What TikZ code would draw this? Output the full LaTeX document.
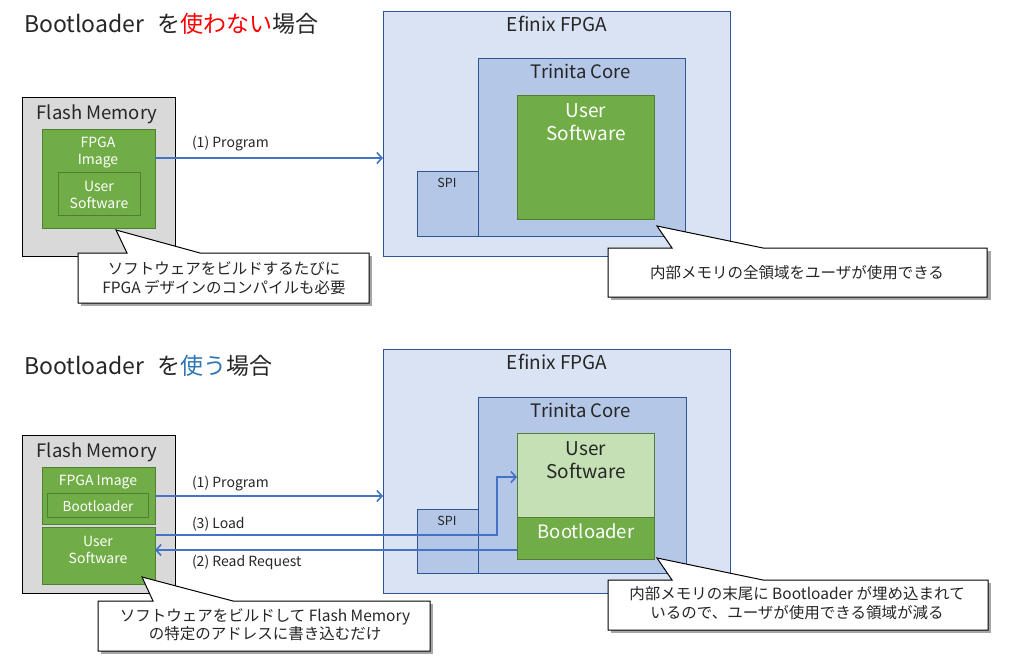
\documentclass[tikz,border=0pt]{standalone}
\usepackage{fontspec}
\setmainfont{Noto Sans CJK JP}
\usetikzlibrary{arrows.meta}
\definecolor{fpgaF}{HTML}{DAE3F3}
\definecolor{fpgaB}{HTML}{2F5597}
\definecolor{coreF}{HTML}{B4C7E7}
\definecolor{grnF}{HTML}{70AD47}
\definecolor{grnB}{HTML}{507E32}
\definecolor{lgrnF}{HTML}{C5E0B4}
\definecolor{flashF}{HTML}{D9D9D9}
\definecolor{arrC}{HTML}{4472C4}
\definecolor{txtC}{HTML}{262626}
\definecolor{redT}{HTML}{FF0000}
\definecolor{blueT}{HTML}{2E75B6}
\newcommand{\fs}[1]{\fontsize{#1}{#1}\selectfont}
\tikzset{
  box/.style={shape=rectangle, anchor=north west, inner sep=0pt, outer sep=0pt, line width=1pt},
  fpgabox/.style={box, draw=fpgaB, fill=fpgaF},
  corebox/.style={box, draw=fpgaB, fill=coreF},
  grnbox/.style={box, draw=grnB, fill=grnF},
  lgrnbox/.style={box, draw=grnB, fill=lgrnF},
  flashbox/.style={box, draw=black, fill=flashF},
  txt/.style={inner sep=0pt, outer sep=0pt, anchor=base, text=txtC, align=center},
  wtxt/.style={txt, text=white},
  arr/.style={draw=arrC, line width=2pt, -{Straight Barb[length=5pt,width=11pt,line width=1.6pt]}},
  callout/.style={draw=black, fill=white, line width=1pt, line join=miter},
  shadow/.style={fill=black!35, draw=none},
}
\begin{document}
\begin{tikzpicture}[x=1pt,y=-1pt]
\useasboundingbox (0,0) rectangle (1009,671);
% (multi-line text nodes are placed at the baseline of their LAST line)

% ================= TOP =================
\node[txt, anchor=base west, font=\fs{23}] (title1) at (24,33) {Bootloader\hspace{0.35em} を\textcolor{redT}{使わない}場合};

% Flash memory (top)
\node[flashbox, minimum width=153, minimum height=158] (flash1) at (22,98) {};
\node[txt, font=\fs{18.5}] (flash1t) at (97,120) {Flash Memory};
\node[grnbox, minimum width=113, minimum height=98] (img1) at (42,130) {};
\node[wtxt, font=\fontsize{14}{17}\selectfont] (img1t) at (98,165) {FPGA\\Image};
\node[grnbox, minimum width=82, minimum height=43] (usw1) at (58,173) {};
\node[wtxt, font=\fontsize{14}{17}\selectfont] (usw1t) at (99,208) {User\\Software};

% FPGA (top)
\node[fpgabox, minimum width=347, minimum height=244] (fpga1) at (383,12) {};
\node[txt, font=\fs{19}] (fpga1t) at (557,32) {Efinix FPGA};
\node[corebox, minimum width=61, minimum height=64] (spi1) at (417,172) {};
\node[txt, font=\fs{12.5}] (spi1t) at (447,188) {SPI};
\node[corebox, minimum width=207, minimum height=177] (core1) at (478,59) {};
\node[txt, font=\fs{18.5}] (core1t) at (581,79) {Trinita Core};
\node[grnbox, minimum width=137, minimum height=124] (cusw1) at (517,96) {};
\node[wtxt, font=\fontsize{19}{23}\selectfont] (cusw1t) at (586,141) {User\\Software};

% arrow (1) top
\draw[arr] (img1.east |- 0,158) -- (fpga1.west |- 0,158);
\node[txt, anchor=base west, font=\fs{14}] (p1) at (192,148) {(1) Program};

% callout 1
\coordinate (c1tip) at (116,230);
\fill[shadow] (81,256) -- (372,256) -- (372,306) -- (81,306) -- cycle;
\draw[callout] (78,253) -- (127,253) -- (c1tip) -- (200,253) -- (369,253) -- (369,303) -- (78,303) -- cycle;
\node[txt, font=\fontsize{15.5}{19}\selectfont] (c1t) at (224,293) {ソフトウェアをビルドするたびに\\FPGA デザインのコンパイルも必要};

% callout 2
\coordinate (c2tip) at (657,226);
\fill[shadow] (611,251) -- (991,251) -- (991,300) -- (611,300) -- cycle;
\draw[callout] (608,248) -- (672,248) -- (c2tip) -- (763,248) -- (987,248) -- (987,297) -- (608,297) -- cycle;
\node[txt, font=\fs{15.5}] (c2t) at (797,278) {内部メモリの全領域をユーザが使用できる};

% ================= BOTTOM =================
\node[txt, anchor=base west, font=\fs{23}] (title2) at (24,374) {Bootloader\hspace{0.35em} を\textcolor{blueT}{使う}場合};

% Flash memory (bottom)
\node[flashbox, minimum width=153, minimum height=158] (flash2) at (22,435) {};
\node[txt, font=\fs{18.5}] (flash2t) at (97,457) {Flash Memory};
\node[grnbox, minimum width=113, minimum height=57] (img2) at (42,467) {};
\node[wtxt, font=\fs{14}] (img2t) at (98,485) {FPGA Image};
\node[grnbox, minimum width=101, minimum height=24] (bl2) at (47,493) {};
\node[wtxt, font=\fs{13.5}] (bl2t) at (98,511) {Bootloader};
\node[grnbox, minimum width=113, minimum height=57] (usw2) at (42,527) {};
\node[wtxt, font=\fontsize{14}{17}\selectfont] (usw2t) at (98,563) {User\\Software};

% FPGA (bottom)
\node[fpgabox, minimum width=347, minimum height=244] (fpga2) at (383,349) {};
\node[txt, font=\fs{19}] (fpga2t) at (557,369) {Efinix FPGA};
\node[corebox, minimum width=61, minimum height=64] (spi2) at (417,509) {};
\node[txt, font=\fs{12.5}] (spi2t) at (447,525) {SPI};
\node[corebox, minimum width=208, minimum height=176] (core2) at (478,397) {};
\node[txt, font=\fs{18.5}] (core2t) at (581,417) {Trinita Core};
\node[lgrnbox, minimum width=137, minimum height=84] (cusw2) at (517,433) {};
\node[txt, font=\fontsize{19}{23}\selectfont] (cusw2t) at (586,478) {User\\Software};
\node[grnbox, minimum width=137, minimum height=42] (cbl2) at (517,517) {};
\node[wtxt, font=\fs{18.5}] (cbl2t) at (586,538) {Bootloader};

% arrows bottom
\draw[arr] (img2.east |- 0,496) -- (fpga2.west |- 0,496);
\node[txt, anchor=base west, font=\fs{14}] (p2) at (192,487) {(1) Program};
\coordinate (bend) at (497,535);
\draw[arr] (usw2.east |- bend) -- (bend) -- (bend |- 0,477) -- (cusw2.west |- 0,477);
\node[txt, anchor=base west, font=\fs{14}] (ld) at (192,528) {(3) Load};
\draw[arr] (cbl2.west |- 0,550) -- (usw2.east |- 0,550);
\node[txt, anchor=base west, font=\fs{14}] (rr) at (192,566) {(2) Read Request};

% callout 3
\coordinate (c3tip) at (657,558);
\fill[shadow] (611,583) -- (991,583) -- (991,633) -- (611,633) -- cycle;
\draw[callout] (608,580) -- (672,580) -- (c3tip) -- (763,580) -- (988,580) -- (988,630) -- (608,630) -- cycle;
\node[txt, font=\fontsize{15.5}{19}\selectfont] (c3t) at (797,618) {内部メモリの末尾に Bootloader が埋め込まれて\\いるので、ユーザが使用できる領域が減る};

% callout 4
\coordinate (c4tip) at (142,577);
\fill[shadow] (101,604) -- (433,604) -- (433,654) -- (101,654) -- cycle;
\draw[callout] (98,601) -- (153,601) -- (c4tip) -- (233,601) -- (430,601) -- (430,651) -- (98,651) -- cycle;
\node[txt, font=\fontsize{15.5}{18}\selectfont] (c4t) at (265,639) {ソフトウェアをビルドして Flash Memory\\の特定のアドレスに書き込むだけ};
\end{tikzpicture}
\end{document}
